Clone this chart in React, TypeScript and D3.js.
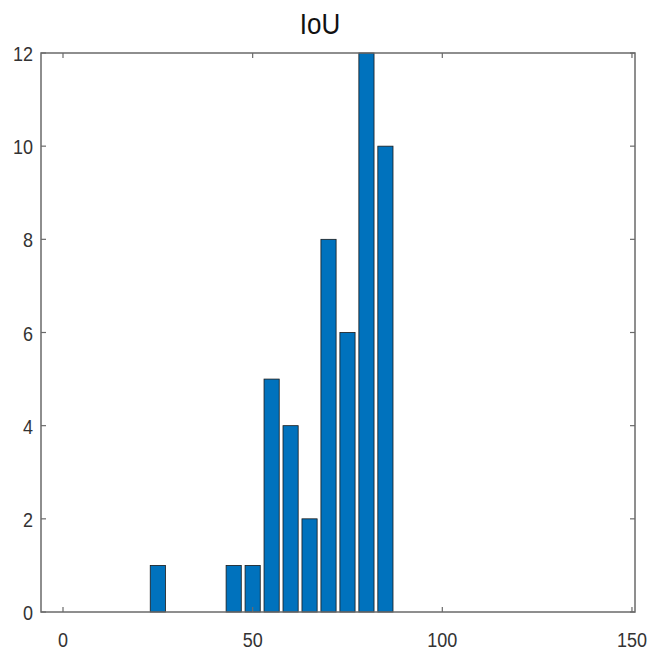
import React from "react";
import * as d3 from "d3";

const binCenters = [25, 45, 50, 55, 60, 65, 70, 75, 80, 85];
const counts = [1, 1, 1, 5, 4, 2, 8, 6, 12, 10];
const xTicks = [0, 50, 100, 150];
const yTicks = [0, 2, 4, 6, 8, 10, 12];
const title = "IoU";

const W = 649, H = 650;
const left = 41, right = 635, top = 53, bottom = 612;

export default function App() {
  const x = d3.scaleLinear().domain([-5.8, 150.8]).range([left, right]);
  const y = d3.scaleLinear().domain([0, 12]).range([bottom, top]);
  const bw = x(4) - x(0);
  const tickLen = 5;
  const axisColor = "#6a6a6a";
  const font = "'Liberation Sans', Arial, sans-serif";
  return (
    <svg width={W} height={H} style={{ position: "absolute", left: 0, top: 0, background: "#fff" }}>
      <rect x={0} y={0} width={W} height={H} fill="#fff" />
      {binCenters.map((c, i) => (
        <rect key={i} x={x(c) - bw / 2} y={y(counts[i])} width={bw} height={y(0) - y(counts[i])}
          fill="#0072BD" stroke="#1a1a1a" strokeWidth={0.8} />
      ))}
      <rect x={left} y={top} width={right - left} height={bottom - top} fill="none" stroke={axisColor} strokeWidth={1.5} />
      {xTicks.map((t) => (
        <g key={"x" + t}>
          <line x1={x(t)} x2={x(t)} y1={bottom} y2={bottom - tickLen} stroke={axisColor} strokeWidth={1.2} />
          <line x1={x(t)} x2={x(t)} y1={top} y2={top + tickLen} stroke={axisColor} strokeWidth={1.2} />
          <text x={x(t)} y={0} transform={`translate(0,647) scale(1,1.17)`} textAnchor="middle" fontFamily={font} fontSize={18} fill="#333">{t}</text>
        </g>
      ))}
      {yTicks.map((t) => (
        <g key={"y" + t}>
          <line x1={left} x2={left + tickLen} y1={y(t)} y2={y(t)} stroke={axisColor} strokeWidth={1.2} />
          <line x1={right} x2={right - tickLen} y1={y(t)} y2={y(t)} stroke={axisColor} strokeWidth={1.2} />
          <text x={33} y={0} transform={`translate(0,${y(t) + 8}) scale(1,1.17)`} textAnchor="end" fontFamily={font} fontSize={18} fill="#333">{t}</text>
        </g>
      ))}
      <text x={320} y={0} transform="translate(0,34) scale(1,1.12)" textAnchor="middle" fontFamily={font} fontSize={26} fill="#111">{title}</text>
    </svg>
  );
}
